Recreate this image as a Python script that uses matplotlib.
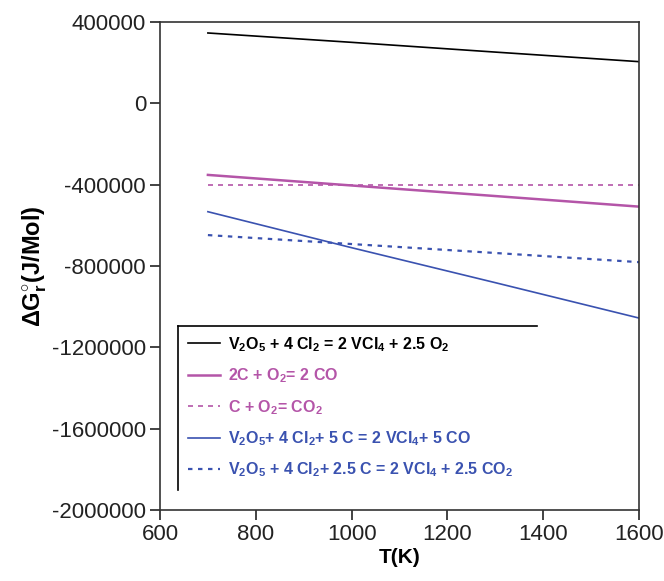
import matplotlib
matplotlib.use("Agg")
import matplotlib.pyplot as plt
from matplotlib.lines import Line2D

plt.rcParams['font.family'] = ['Liberation Sans', 'DejaVu Sans']
plt.rcParams['mathtext.fontset'] = 'custom'
plt.rcParams['mathtext.rm'] = 'Liberation Sans:bold'
plt.rcParams['mathtext.it'] = 'Liberation Sans:bold'
plt.rcParams['mathtext.bf'] = 'Liberation Sans:bold'
plt.rcParams['mathtext.default'] = 'rm'

# Data
T = [700, 1000, 1300, 1600]
dG_V2O5_Cl2 = [346000, 300000, 252000, 205000]
dG_2C_O2 = [-352000, -404000, -456000, -508000]
dG_C_O2 = [-400000, -400000, -400000, -400000]
dG_V2O5_Cl2_5C = [-533000, -710000, -882000, -1056000]
dG_V2O5_Cl2_25C = [-648000, -692000, -736000, -781000]

labels = [
    r'V$_2$O$_5$ + 4 Cl$_2$ = 2 VCl$_4$ + 2.5 O$_2$',
    r'2C + O$_2$= 2 CO',
    r'C + O$_2$= CO$_2$',
    r'V$_2$O$_5$+ 4 Cl$_2$+ 5 C = 2 VCl$_4$+ 5 CO',
    r'V$_2$O$_5$ + 4 Cl$_2$+ 2.5 C = 2 VCl$_4$ + 2.5 CO$_2$',
]
colors = ['#000000', '#b455a8', '#b455a8', '#3a52b0', '#3a52b0']
styles = ['-', '-', (0, (3, 3)), '-', (0, (2, 2.5))]
widths = [1.2, 1.8, 1.2, 1.2, 1.6]
xticks = [600, 800, 1000, 1200, 1400, 1600]
yticks = [400000, 0, -400000, -800000, -1200000, -1600000, -2000000]

fig = plt.figure(figsize=(6.64, 5.81), dpi=100)
ax = fig.add_axes([160/664, 71/581, 479/664, 488/581])

series = [dG_V2O5_Cl2, dG_2C_O2, dG_C_O2, dG_V2O5_Cl2_5C, dG_V2O5_Cl2_25C]
handles = []
for y, c, s, w, lab in zip(series, colors, styles, widths, labels):
    h, = ax.plot(T, y, color=c, linestyle=s, linewidth=w, label=lab)
    handles.append(h)

ax.set_xlim(600, 1600)
ax.set_ylim(-2000000, 400000)
ax.set_xticks(xticks)
ax.set_yticks(yticks)
ax.set_xticklabels([str(v) for v in xticks])
ax.set_yticklabels([str(v) for v in yticks])
ax.tick_params(direction='out', length=7, width=1.2, labelsize=16, colors='#222222', pad=3)
for sp in ax.spines.values():
    sp.set_linewidth(1.2)
    sp.set_color('#333333')

ax.set_xlabel('T(K)', fontsize=15, fontweight='bold', labelpad=2)
ax.set_ylabel(r'ΔG$^{\circ}_{r}$(J/Mol)', fontsize=17, fontweight='bold', labelpad=2)

leg_text_colors = ['#000000', '#b455a8', '#b455a8', '#3a52b0', '#3a52b0']
leg = ax.legend(handles=handles, loc='upper left', bbox_to_anchor=(0.045, 0.372),
                frameon=False, fontsize=11.5, handlelength=2.0, handletextpad=0.5,
                labelspacing=0.8, borderaxespad=0)
for t, c in zip(leg.get_texts(), leg_text_colors):
    t.set_color(c)
    t.set_fontweight('bold')

# partial legend frame (top and left lines)
ax.add_line(Line2D([0.0376, 0.787], [0.377, 0.377], transform=ax.transAxes,
                   color='black', linewidth=1.2))
ax.add_line(Line2D([0.0376, 0.0376], [0.377, 0.041], transform=ax.transAxes,
                   color='black', linewidth=1.2))

fig.savefig('out.png', dpi=100)
